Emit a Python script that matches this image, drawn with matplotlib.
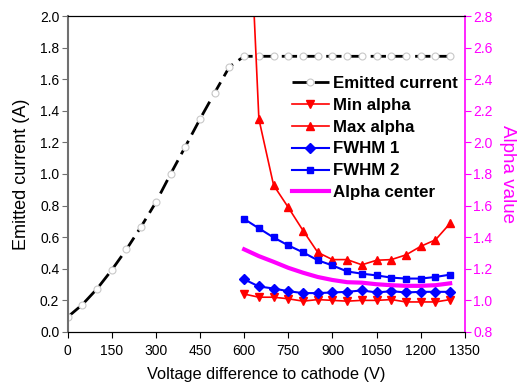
import numpy as np
import matplotlib
matplotlib.use("Agg")
import matplotlib.pyplot as plt

plt.rcParams['font.family'] = ['Liberation Sans', 'DejaVu Sans']

# emitted current vs. voltage (left axis)
volt_cur = [0, 50, 100, 150, 200, 250, 300, 350, 400, 450, 500, 550, 600,
            650, 700, 750, 800, 850, 900, 950, 1000, 1050, 1100, 1150, 1200, 1250, 1300]
current = [0.094, 0.173, 0.273, 0.392, 0.523, 0.667, 0.821, 1.0, 1.173, 1.348, 1.515, 1.679, 1.745,
           1.745, 1.745, 1.745, 1.745, 1.745, 1.745, 1.745, 1.745, 1.745, 1.745, 1.745, 1.745, 1.745, 1.745]

# alpha values (right axis)
volt = [600, 650, 700, 750, 800, 850, 900, 950, 1000, 1050, 1100, 1150, 1200, 1250, 1300]
min_alpha = [1.04, 1.02, 1.02, 1.01, 0.995, 1.005, 1.0, 0.995, 1.0, 1.0, 1.005, 0.99, 0.99, 0.99, 1.005]
max_alpha = [4.2, 2.148, 1.729, 1.588, 1.442, 1.304, 1.258, 1.258, 1.225, 1.254, 1.258, 1.288, 1.342, 1.383, 1.488]
fwhm1 = [1.133, 1.088, 1.075, 1.058, 1.046, 1.046, 1.05, 1.054, 1.063, 1.05, 1.058, 1.05, 1.054, 1.054, 1.054]
fwhm2 = [1.515, 1.456, 1.398, 1.348, 1.304, 1.254, 1.221, 1.183, 1.169, 1.158, 1.144, 1.138, 1.138, 1.148, 1.163]
alpha_center = [1.323, 1.28, 1.244, 1.206, 1.175, 1.148, 1.129, 1.115, 1.112, 1.102, 1.096, 1.092, 1.092, 1.096, 1.108]

fig = plt.figure(figsize=(5.2, 3.86), dpi=100)
ax = fig.add_axes([0.130, 0.140, 0.764, 0.8185])
ax2 = ax.twinx()

l0, = ax.plot(volt_cur, current, color='black', lw=2, dashes=(5.5, 2.5),
              marker='o', ms=5, mfc='white', mec='#c8c8c8', mew=0.8,
              label='Emitted current')

l1, = ax2.plot(volt, min_alpha, color='red', lw=1.2, marker='v', ms=6, label='Min alpha')
l2, = ax2.plot(volt, max_alpha, color='red', lw=1.2, marker='^', ms=6, label='Max alpha')
l3, = ax2.plot(volt, fwhm1, color='blue', lw=1.5, marker='D', ms=5, label='FWHM 1')
l4, = ax2.plot(volt, fwhm2, color='blue', lw=1.5, marker='s', ms=5, label='FWHM 2')
l5, = ax2.plot(volt, alpha_center, color='magenta', lw=3, label='Alpha center')

ax.set_xlim(0, 1350)
ax.set_ylim(0, 2.0)
ax2.set_ylim(0.8, 2.8)
ax.set_xticks(np.arange(0, 1351, 150))
ax.set_yticks(np.arange(0, 2.01, 0.2))
ax2.set_yticks(np.arange(0.8, 2.81, 0.2))
ax.yaxis.set_major_formatter(matplotlib.ticker.FormatStrFormatter('%.1f'))
ax2.yaxis.set_major_formatter(matplotlib.ticker.FormatStrFormatter('%.1f'))

ax.tick_params(axis='both', direction='out', length=4, labelsize=10, pad=2)
ax.tick_params(axis='x', pad=5)
ax.tick_params(axis='y', color='#707070')
ax2.tick_params(axis='y', direction='out', length=4, labelsize=10, pad=2,
                colors='magenta')

ax.spines['left'].set_color('#707070')
ax.spines['left'].set_linewidth(1.5)
ax2.spines['left'].set_visible(False)
ax2.spines['right'].set_color('magenta')
ax2.spines['right'].set_linewidth(1.2)
ax.spines['right'].set_visible(False)

ax.set_xlabel('Voltage difference to cathode (V)', fontsize=11.8, labelpad=6)
ax.set_ylabel('Emitted current (A)', fontsize=13, labelpad=7)
ax2.set_ylabel('Alpha value', fontsize=13.5, color='magenta', rotation=270, labelpad=17)

fig.legend(handles=[l0, l1, l2, l3, l4, l5], loc='upper left',
           bbox_to_anchor=(0.561, 0.804), frameon=False,
           prop={'weight': 'bold', 'size': 12.2}, handlelength=2.2,
           handletextpad=0.25, labelspacing=0.41, borderpad=0, borderaxespad=0)

fig.savefig('out.png', dpi=100)
